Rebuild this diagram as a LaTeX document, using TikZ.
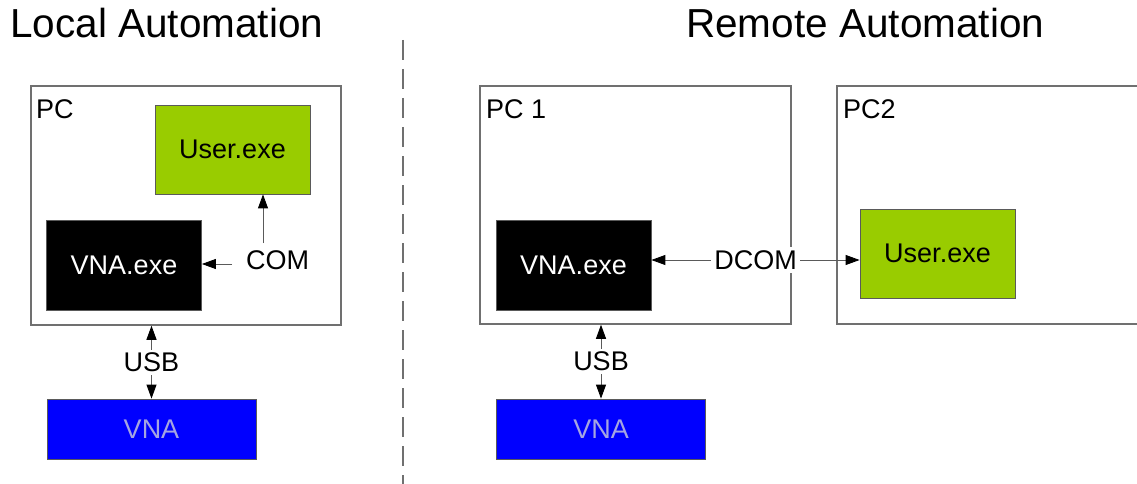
\documentclass[tikz,border=0pt]{standalone}
\usepackage{fontspec}
\setmainfont{Liberation Sans}
\usetikzlibrary{arrows.meta}
\definecolor{boxgray}{RGB}{112,112,112}
\definecolor{usergreen}{RGB}{153,204,0}
\definecolor{vnablue}{RGB}{0,0,255}
\definecolor{vnatext}{RGB}{165,165,225}
\definecolor{linegray}{RGB}{90,90,90}
\begin{document}
\begin{tikzpicture}[x=1pt,y=-1pt,
  >={Stealth[length=14pt,width=10pt,inset=0pt,black]},
  txt/.style={font=\fontsize{27}{32}\selectfont},
  title/.style={font=\fontsize{40.5}{48}\selectfont, inner sep=0pt, anchor=base west},
  pcbox/.style={draw=boxgray, line width=1.5pt, fill=white, inner sep=0pt},
  pclabel/.style={txt, inner sep=0pt, anchor=base west},
  userbox/.style={txt, draw=linegray, line width=0.8pt, fill=usergreen, inner sep=0pt, minimum width=155pt, minimum height=89pt},
  exebox/.style={txt, draw=linegray, line width=0.8pt, fill=black, text=white, inner sep=0pt, minimum width=155pt, minimum height=90pt},
  vnabox/.style={txt, draw=linegray, line width=0.8pt, fill=vnablue, text=vnatext, inner sep=0pt, minimum width=209pt, minimum height=60pt},
  conn/.style={draw=linegray, line width=0.9pt},
  oneway/.style={conn, ->},
  twoway/.style={conn, <->},
  lbl/.style={txt, fill=white, inner sep=3pt}
]
\useasboundingbox (0,0) rectangle (1137,484);
% titles
\node[title] (tL) at (10,37.5) {Local Automation};
\node[title] (tR) at (686,37.5) {Remote Automation};
% separator
\coordinate (sepTop) at (402.5,40);
\coordinate (sepBot) at (402.5,484);
\draw[boxgray, line width=2pt, dash pattern=on 20pt off 9pt] (sepTop) -- (sepBot);

% ---------- Local ----------
\node[pcbox, minimum width=310pt, minimum height=239pt] (pcL) at (186,205.5) {};
\node[pclabel] (pcLlab) at (36,118) {PC};
\node[userbox] (userL) at (232.5,149.5) {User.exe};
\node[exebox] (exeL) at (124,265) {VNA.exe};
\node[txt, inner sep=0pt] (com) at (277.5,260) {COM};
\node[vnabox] (vnaL) at (151.5,429) {VNA};
\coordinate (comUp) at (263,243);
\coordinate (comLeft) at (232,264);
\draw[oneway] (comUp) -- (comUp |- userL.south);
\draw[oneway] (comLeft) -- (comLeft -| exeL.east);
\draw[twoway] (vnaL.north |- pcL.south) -- node[lbl] (usbL) {USB} (vnaL.north);

% ---------- Remote ----------
\node[pcbox, minimum width=311pt, minimum height=238pt] (pc1) at (635.5,205) {};
\node[pclabel] (pc1lab) at (486,118) {PC 1};
\node[pcbox, minimum width=310pt, minimum height=238pt] (pc2) at (992,205) {};
\node[pclabel] (pc2lab) at (843,118) {PC2};
\node[exebox] (exeR) at (573.5,265) {VNA.exe};
\node[userbox] (userR) at (937.5,253.5) {User.exe};
\node[vnabox] (vnaR) at (601,429) {VNA};
\coordinate (dcomY) at (0,260);
\draw[twoway] (exeR.east |- dcomY) -- node[lbl, pos=0.5] (dcom) {DCOM} (userR.west |- dcomY);
\draw[twoway] (vnaR.north |- pc1.south) -- node[lbl] (usbR) {USB} (vnaR.north);
\end{tikzpicture}
\end{document}
